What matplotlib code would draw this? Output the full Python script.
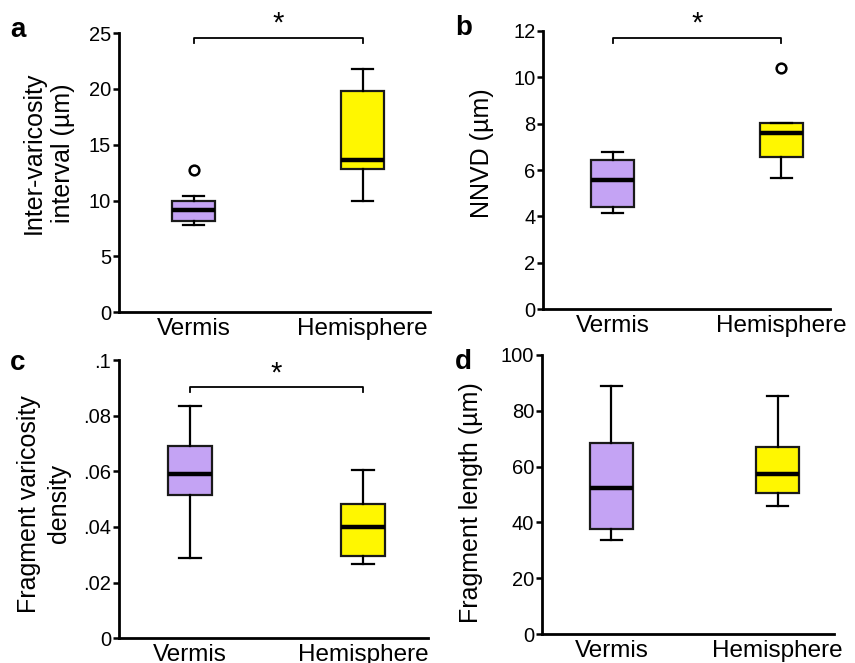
import matplotlib
matplotlib.use('Agg')
import matplotlib.pyplot as plt

plt.rcParams['font.family'] = ['Liberation Sans', 'DejaVu Sans']

###############################################
### Data

groups = ['Vermis', 'Hemisphere']

# each box: whisker low, Q1, median, Q3, whisker high
a_vermis = [7.8, 8.2, 9.15, 10.0, 10.4]
a_hemi = [10.0, 12.8, 13.65, 19.8, 21.8]
a_fliers = [[12.7], []]

b_vermis = [4.16, 4.42, 5.57, 6.43, 6.79]
b_hemi = [5.64, 6.56, 7.61, 8.04, 8.04]
b_fliers = [[], [10.39]]

c_vermis = [0.029, 0.0516, 0.0589, 0.0692, 0.0836]
c_hemi = [0.0266, 0.0295, 0.0400, 0.0484, 0.0606]
c_fliers = [[], []]

d_vermis = [33.8, 37.5, 52.4, 68.3, 88.9]
d_hemi = [45.8, 50.6, 57.2, 67.1, 85.4]
d_fliers = [[], []]

a_ticks = [0, 5, 10, 15, 20, 25]
a_ticklabels = ['0', '5', '10', '15', '20', '25']
b_ticks = [0, 2, 4, 6, 8, 10, 12]
b_ticklabels = ['0', '2', '4', '6', '8', '10', '12']
c_ticks = [0, 0.02, 0.04, 0.06, 0.08, 0.1]
c_ticklabels = ['0', '.02', '.04', '.06', '.08', '.1']
d_ticks = [0, 20, 40, 60, 80, 100]
d_ticklabels = ['0', '20', '40', '60', '80', '100']

purple = '#C4A3F4'
yellow = '#FFF700'

###############################################
### Figure

fig = plt.figure(figsize=(8.55, 6.63), dpi=100)

panels = [
    # letter, rect, boxes, fliers, ylim, ticks, labels, ylabel, xlim, bracket(y, drop), labelpad, label y, letter xy
    ('a', [0.139, 0.529, 0.364, 0.421], [a_vermis, a_hemi], a_fliers, 25,
     a_ticks, a_ticklabels, 'Inter-varicosity\ninterval (\u00b5m)', (0.556, 2.40), (24.6, 0.5), 10, 0.57, (0.012, 0.955)),
    ('b', [0.635, 0.5335, 0.336, 0.420], [b_vermis, b_hemi], b_fliers, 12,
     b_ticks, b_ticklabels, 'NNVD (\u00b5m)', (0.587, 2.29), (11.71, 0.23), 14, 0.56, (0.532, 0.958)),
    ('c', [0.139, 0.0373, 0.361, 0.4197], [c_vermis, c_hemi], c_fliers, 0.1,
     c_ticks, c_ticklabels, 'Fragment varicosity\ndensity', (0.588, 2.372), (0.0904, 0.0019), 9, 0.483, (0.012, 0.452)),
    ('d', [0.6336, 0.0437, 0.3418, 0.4209], [d_vermis, d_hemi], d_fliers, 100,
     d_ticks, d_ticklabels, 'Fragment length (\u00b5m)', (0.58, 2.34), None, 13, 0.47, (0.532, 0.454)),
]

for letter, rect, boxes, fliers, ytop, ticks, tlabels, ylabel, xlim, bracket, lp, ly, lxy in panels:
    ax = fig.add_axes(rect)
    stats = []
    for vals, fl, name in zip(boxes, fliers, groups):
        stats.append({'whislo': vals[0], 'q1': vals[1], 'med': vals[2],
                      'q3': vals[3], 'whishi': vals[4], 'fliers': fl, 'label': name})
    bp = ax.bxp(stats, positions=[1, 2], widths=0.255, capwidths=0.125,
                patch_artist=True, showfliers=True,
                boxprops=dict(linewidth=1.6, edgecolor='#1a1a1a'),
                medianprops=dict(color='black', linewidth=3.2, solid_capstyle='butt'),
                whiskerprops=dict(color='black', linewidth=1.6),
                capprops=dict(color='black', linewidth=1.6),
                flierprops=dict(marker='o', markersize=7, markerfacecolor='none',
                                markeredgecolor='black', markeredgewidth=1.8))
    for patch, col in zip(bp['boxes'], [purple, yellow]):
        patch.set_facecolor(col)

    ax.set_xlim(*xlim)
    ax.set_ylim(0, ytop)
    ax.set_yticks(ticks)
    ax.set_yticklabels(tlabels, fontsize=14.5)
    ax.set_xticks([1, 2])
    ax.set_xticklabels(groups, fontsize=17.5)
    ax.tick_params(axis='x', length=0, pad=4)
    ax.tick_params(axis='y', length=4, width=1.8, pad=1.5)
    ax.spines['top'].set_visible(False)
    ax.spines['right'].set_visible(False)
    ax.spines['left'].set_linewidth(2)
    ax.spines['bottom'].set_linewidth(2)
    ax.set_ylabel(ylabel, fontsize=18, labelpad=lp, linespacing=1.3)
    ax.yaxis.label.set_y(ly)
    ax.patch.set_alpha(0)

    if bracket is not None:
        by, drop = bracket
        ax.plot([1.0, 1.0, 2.0, 2.0], [by - drop, by, by, by - drop],
                color='black', linewidth=1.3, clip_on=False)
        ax.annotate('*', xy=(1.5, by), xytext=(0, 4), textcoords='offset points',
                    ha='center', va='baseline', fontsize=21, annotation_clip=False)

    fig.text(lxy[0], lxy[1], letter, fontsize=20, fontweight='bold',
             ha='left', va='center')

###############################################
### Save

plt.savefig('out.png', dpi=100)
